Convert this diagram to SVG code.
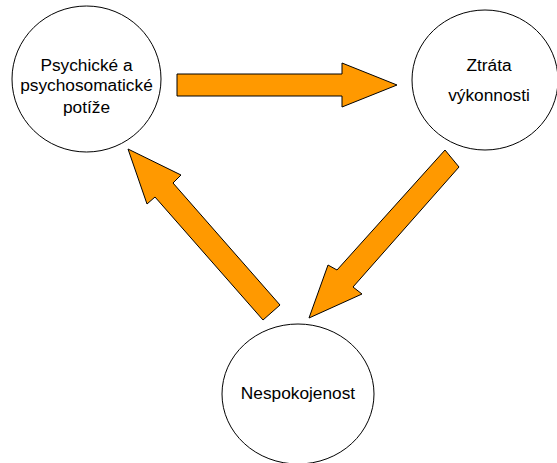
<svg xmlns="http://www.w3.org/2000/svg" width="557" height="463" viewBox="0 0 557 463">
<style>
.node{fill:#ffffff;stroke:#000000;stroke-width:1}
.arrow{fill:#ff9900;stroke:#000000;stroke-width:1;stroke-linejoin:miter}
.label{font-family:"Liberation Sans",Arial,sans-serif;font-size:17.3px;fill:#000000;text-anchor:middle}
</style>
<rect width="557" height="463" fill="#ffffff"/>
<g id="connectors">
<polygon class="arrow" points="177,74 342,74 342,63 397,85 342,107 342,96 177,96"/>
<polygon class="arrow" points="445,150 459,167 353,287 362,294 309,318 328,265 337,270"/>
<polygon class="arrow" points="280,305 263,320 155,197 147,204 128,149 181,175 173,183"/>
</g>
<g id="node-psychicke">
<ellipse class="node" cx="86.5" cy="79" rx="74.5" ry="73"/>
<text class="label" x="86.5" y="70.5">Psychické a</text>
<text class="label" x="86.5" y="91">psychosomatické</text>
<text class="label" x="86.5" y="112.5">potíže</text>
</g>
<g id="node-ztrata">
<ellipse class="node" cx="485" cy="80" rx="73" ry="70"/>
<text class="label" x="489" y="70.5">Ztráta</text>
<text class="label" x="489" y="100.5">výkonnosti</text>
</g>
<g id="node-nespokojenost">
<ellipse class="node" cx="298" cy="394" rx="76" ry="70"/>
<text class="label" x="298" y="399">Nespokojenost</text>
</g>
</svg>
